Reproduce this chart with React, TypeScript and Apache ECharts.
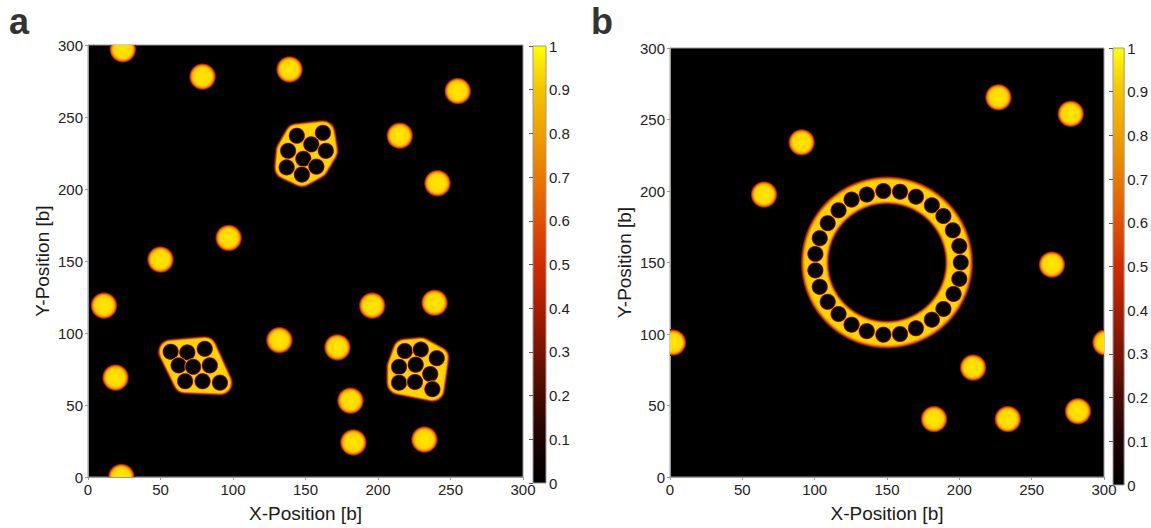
import React, { useEffect, useRef } from "react";
import * as echarts from "echarts";

// ---------- data ----------
const AXIS_MIN = 0;
const AXIS_MAX = 300;
const AXIS_STEP = 50;
const CBAR_MIN = 0;
const CBAR_MAX = 1;
const CBAR_STEP = 0.1;

// panel a: free particles [x, y]
const PARTICLES_A = [
  [24, 297], [79, 278], [139, 283], [255, 268], [215, 237], [241, 204],
  [97, 166], [50, 151], [11, 119], [196, 119], [239, 121], [132, 95],
  [172, 90], [19, 69], [181, 53], [183, 24], [232, 26], [23, 0],
];
// panel a: particles wrapped in membranes (hole centres)
const CLUSTER_A1 = [
  [144, 237], [162, 239], [154, 231], [138, 226.5], [164, 226.5],
  [148.5, 221], [137, 215], [157.5, 215.5], [147.5, 210],
];
const CLUSTER_A2 = [
  [57, 87], [68.5, 86.5], [80.5, 89], [62.5, 77.5], [72.5, 76.5],
  [84, 77.5], [67, 66.5], [79, 66.5], [91, 65.5],
];
const CLUSTER_A3 = [
  [218.5, 87.5], [229.5, 88.5], [240.5, 82.5], [214.5, 76.5], [226, 78],
  [236, 71.5], [214.5, 65.5], [225.5, 66], [237.5, 61],
];

// panel b: free particles
const PARTICLES_B = [
  [227, 265.5], [277, 254], [91, 234], [65, 197.5], [264, 148.5],
  [2, 94], [301, 94], [209.5, 76.5], [182.5, 40.5], [233.5, 40.5], [282, 46],
];
// panel b: ring membrane [cx, cy, innerR, outerR]
const RING_B = [[150, 150, 39.5, 60]];
// panel b: particles inside the ring membrane
const RING_B_HOLES = [
  [136, 197.5], [147.5, 200], [159, 199.5], [170, 196], [181, 190],
  [189, 182.5], [195.5, 172.5], [200, 161.5], [201, 150], [200, 138.5],
  [196, 128], [189, 117.5], [181, 110], [170, 104], [159, 100],
  [147.5, 99.5], [136, 102], [125.5, 106.5], [116.5, 114], [109, 122.5],
  [103.5, 133], [100.5, 144.5], [100.5, 156], [103.5, 167], [109, 177.5],
  [116.5, 186.5], [125.5, 194],
];
const COLORBAR_BOX = [[CBAR_MIN, CBAR_MIN, CBAR_MAX, CBAR_MAX]];

// ---------- styles ----------
const FONT = "'Liberation Sans', Arial, Helvetica, sans-serif";
const PARTICLE_R = 9.5; // data units
const HOLE_R = 5.9;
const MEMBRANE_R = 7.3;

const COLORMAP = [
  [0, "#000000"], [0.1, "#1c0300"], [0.2, "#460a00"], [0.3, "#781400"],
  [0.4, "#a81e00"], [0.5, "#d02c00"], [0.6, "#e05200"], [0.7, "#e87a00"],
  [0.8, "#eea000"], [0.9, "#f4c400"], [1, "#ffff00"],
];

function convexHull(pts: number[][]) {
  const p = pts.slice().sort((a, b) => a[0] - b[0] || a[1] - b[1]);
  const cross = (o: number[], a: number[], b: number[]) =>
    (a[0] - o[0]) * (b[1] - o[1]) - (a[1] - o[1]) * (b[0] - o[0]);
  const lower: number[][] = [];
  for (const q of p) {
    while (lower.length >= 2 && cross(lower[lower.length - 2], lower[lower.length - 1], q) <= 0) lower.pop();
    lower.push(q);
  }
  const upper: number[][] = [];
  for (let i = p.length - 1; i >= 0; i--) {
    const q = p[i];
    while (upper.length >= 2 && cross(upper[upper.length - 2], upper[upper.length - 1], q) <= 0) upper.pop();
    upper.push(q);
  }
  upper.pop();
  lower.pop();
  return lower.concat(upper);
}

const particleGradient = {
  type: "radial", x: 0.5, y: 0.5, r: 0.5,
  colorStops: [
    { offset: 0, color: "#ffe800" },
    { offset: 0.6, color: "#ffda00" },
    { offset: 0.7, color: "#fcc400" },
    { offset: 0.78, color: "#f59a00" },
    { offset: 0.86, color: "#e05a00" },
    { offset: 0.92, color: "#a02000" },
    { offset: 0.97, color: "#380800" },
    { offset: 1, color: "rgba(0,0,0,0)" },
  ],
};
const holeGradient = {
  type: "radial", x: 0.5, y: 0.5, r: 0.5,
  colorStops: [
    { offset: 0, color: "#000000" },
    { offset: 0.76, color: "#000000" },
    { offset: 0.85, color: "#3a0900" },
    { offset: 0.92, color: "#b83800" },
    { offset: 0.97, color: "#f09000" },
    { offset: 1, color: "#ffc800" },
  ],
};

function particleRender(params: any, api: any) {
  const c = api.coord([api.value(0), api.value(1)]);
  const r = api.size([PARTICLE_R, 0])[0];
  return { type: "circle", shape: { cx: c[0], cy: c[1], r }, style: { fill: particleGradient } };
}
function holeRender(params: any, api: any) {
  const c = api.coord([api.value(0), api.value(1)]);
  const r = api.size([HOLE_R, 0])[0];
  return { type: "circle", shape: { cx: c[0], cy: c[1], r }, style: { fill: holeGradient } };
}
function membraneRender(points: number[][]) {
  return (params: any, api: any) => {
    if (params.dataIndex !== 0) return null;
    const px = points.map((p) => api.coord(p));
    const hull = convexHull(px);
    const rm = api.size([MEMBRANE_R, 0])[0];
    const layers: [number, string][] = [
      [rm * 2 + 5.5, "#2a0600"],
      [rm * 2 + 4, "#8a1c00"],
      [rm * 2 + 2.6, "#d24800"],
      [rm * 2 + 1.2, "#f29400"],
      [rm * 2, "#ffd400"],
    ];
    return {
      type: "group",
      children: layers.map(([w, c]) => ({
        type: "polygon",
        shape: { points: hull },
        style: { fill: c, stroke: c, lineWidth: w, lineJoin: "round" },
      })),
    };
  };
}
function ringRender(params: any, api: any) {
  const c = api.coord([api.value(0), api.value(1)]);
  const r0 = api.size([api.value(2), 0])[0];
  const r = api.size([api.value(3), 0])[0];
  const f = (u: number) => (u / api.value(3));
  return {
    type: "ring",
    shape: { cx: c[0], cy: c[1], r, r0 },
    style: {
      fill: {
        type: "radial", x: 0.5, y: 0.5, r: 0.5,
        colorStops: [
          { offset: f(39.5), color: "rgba(0,0,0,0)" },
          { offset: f(40.3), color: "#4a0c00" },
          { offset: f(41.0), color: "#c03800" },
          { offset: f(41.8), color: "#f49a00" },
          { offset: f(42.8), color: "#ffd400" },
          { offset: f(56.5), color: "#ffd400" },
          { offset: f(57.6), color: "#f49a00" },
          { offset: f(58.6), color: "#c83a00" },
          { offset: f(59.4), color: "#5a0e00" },
          { offset: 1, color: "rgba(0,0,0,0)" },
        ],
      },
    },
  };
}
function colorbarRender(params: any, api: any) {
  const p0 = api.coord([api.value(0), api.value(1)]);
  const p1 = api.coord([api.value(2), api.value(3)]);
  return {
    type: "rect",
    shape: { x: p0[0], y: p1[1], width: p1[0] - p0[0], height: p0[1] - p1[1] },
    style: {
      fill: {
        type: "linear", x: 0, y: 1, x2: 0, y2: 0,
        colorStops: COLORMAP.map(([o, c]) => ({ offset: o, color: c })),
      },
      stroke: "#9a9a9a",
      lineWidth: 1,
    },
  };
}

function mainXAxis(gridIndex: number) {
  return {
    type: "value", gridIndex, min: AXIS_MIN, max: AXIS_MAX, interval: AXIS_STEP,
    name: "X-Position [b]", nameLocation: "middle", nameGap: 27,
    nameTextStyle: { fontSize: 19, color: "#1a1a1a", fontFamily: FONT },
    axisLine: { show: true, lineStyle: { color: "#9a9a9a" } },
    axisTick: { show: true, length: 3, lineStyle: { color: "#9a9a9a" } },
    axisLabel: { fontSize: 15, color: "#222", margin: 5, fontFamily: FONT },
    splitLine: { show: false },
  };
}
function mainYAxis(gridIndex: number) {
  return {
    type: "value", gridIndex, min: AXIS_MIN, max: AXIS_MAX, interval: AXIS_STEP,
    name: "Y-Position [b]", nameLocation: "middle", nameGap: 36,
    nameTextStyle: { fontSize: 19, color: "#1a1a1a", fontFamily: FONT },
    axisLine: { show: true, lineStyle: { color: "#9a9a9a" } },
    axisTick: { show: true, length: 3, lineStyle: { color: "#9a9a9a" } },
    axisLabel: { fontSize: 15, color: "#222", margin: 5, fontFamily: FONT },
    splitLine: { show: false },
  };
}
function cbXAxis(gridIndex: number) {
  return { type: "value", gridIndex, min: CBAR_MIN, max: CBAR_MAX, show: false };
}
function cbYAxis(gridIndex: number) {
  return {
    type: "value", gridIndex, position: "right", min: CBAR_MIN, max: CBAR_MAX, interval: CBAR_STEP,
    z: 5,
    axisLine: { show: false },
    axisTick: { show: true, inside: true, length: 4, lineStyle: { color: "#555" } },
    axisLabel: {
      fontSize: 15, color: "#222", margin: 3, fontFamily: FONT,
      formatter: (v: number) => String(Math.round(v * 10) / 10),
    },
    splitLine: { show: false },
  };
}

export default function App() {
  const ref = useRef<HTMLDivElement>(null);
  useEffect(() => {
    if (!ref.current) return;
    const chart = echarts.init(ref.current, null, { renderer: "svg" });
    const grid = (left: number, top: number, width: number, height: number, bg: boolean) => ({
      left, top, width, height, containLabel: false,
      show: bg, backgroundColor: "#000", borderColor: "#9a9a9a", borderWidth: 1,
    });
    chart.setOption({
      animation: false,
      backgroundColor: "#fff",
      textStyle: { fontFamily: FONT },
      grid: [
        grid(88, 45, 435, 438, true),
        grid(533, 46, 13, 437, false),
        grid(670, 48, 434, 436, true),
        grid(1113, 48, 13, 437, false),
      ],
      xAxis: [mainXAxis(0), cbXAxis(1), mainXAxis(2), cbXAxis(3)],
      yAxis: [mainYAxis(0), cbYAxis(1), mainYAxis(2), cbYAxis(3)],
      graphic: [
        { type: "text", left: 9, top: 3, style: { text: "a", font: `bold 36px ${FONT}`, fill: "#333" } },
        { type: "text", left: 591, top: 3, style: { text: "b", font: `bold 36px ${FONT}`, fill: "#333" } },
      ],
      series: [
        { type: "custom", name: "membrane A1", xAxisIndex: 0, yAxisIndex: 0, clip: true, data: CLUSTER_A1, renderItem: membraneRender(CLUSTER_A1) },
        { type: "custom", name: "membrane A2", xAxisIndex: 0, yAxisIndex: 0, clip: true, data: CLUSTER_A2, renderItem: membraneRender(CLUSTER_A2) },
        { type: "custom", name: "membrane A3", xAxisIndex: 0, yAxisIndex: 0, clip: true, data: CLUSTER_A3, renderItem: membraneRender(CLUSTER_A3) },
        { type: "custom", name: "holes A1", xAxisIndex: 0, yAxisIndex: 0, clip: true, data: CLUSTER_A1, renderItem: holeRender },
        { type: "custom", name: "holes A2", xAxisIndex: 0, yAxisIndex: 0, clip: true, data: CLUSTER_A2, renderItem: holeRender },
        { type: "custom", name: "holes A3", xAxisIndex: 0, yAxisIndex: 0, clip: true, data: CLUSTER_A3, renderItem: holeRender },
        { type: "custom", name: "particles A", xAxisIndex: 0, yAxisIndex: 0, clip: true, data: PARTICLES_A, renderItem: particleRender },
        { type: "custom", name: "colorbar A", xAxisIndex: 1, yAxisIndex: 1, data: COLORBAR_BOX, renderItem: colorbarRender },
        { type: "custom", name: "ring B", xAxisIndex: 2, yAxisIndex: 2, clip: true, data: RING_B, renderItem: ringRender },
        { type: "custom", name: "holes B", xAxisIndex: 2, yAxisIndex: 2, clip: true, data: RING_B_HOLES, renderItem: holeRender },
        { type: "custom", name: "particles B", xAxisIndex: 2, yAxisIndex: 2, clip: true, data: PARTICLES_B, renderItem: particleRender },
        { type: "custom", name: "colorbar B", xAxisIndex: 3, yAxisIndex: 3, data: COLORBAR_BOX, renderItem: colorbarRender },
      ],
    });
    return () => chart.dispose();
  }, []);
  return (
    <div
      ref={ref}
      style={{ position: "fixed", left: 0, top: 0, width: 1151, height: 528, background: "#fff" }}
    />
  );
}
